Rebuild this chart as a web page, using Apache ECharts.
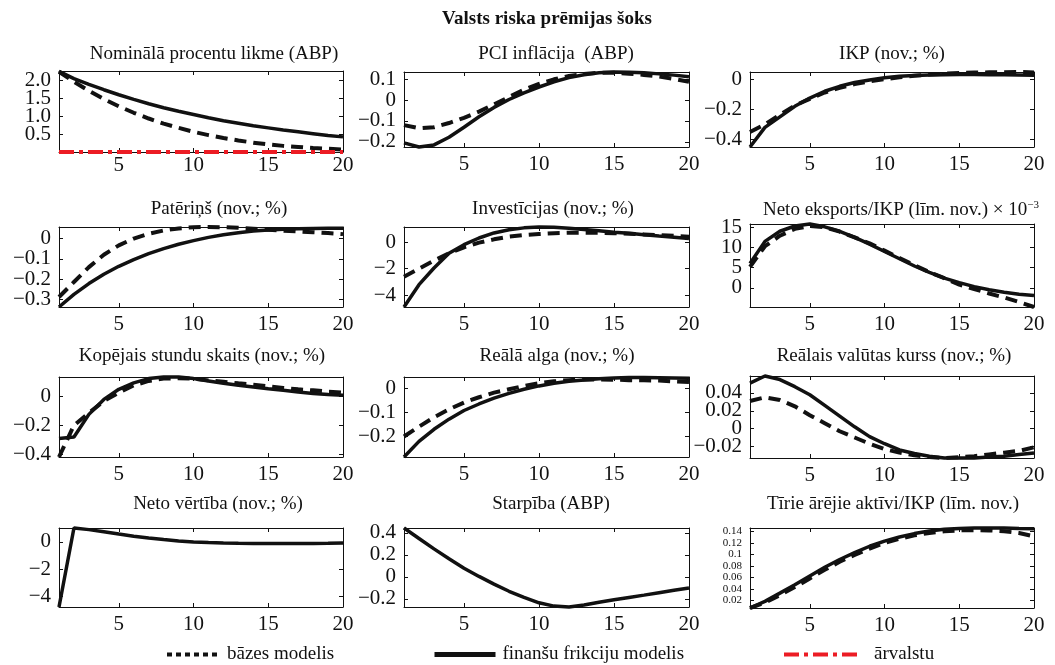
<!DOCTYPE html>
<html><head><meta charset="utf-8">
<script src="https://cdn.jsdelivr.net/npm/echarts@6/dist/echarts.min.js"></script>
<style>html,body{margin:0;padding:0;background:#fff}#c{width:1055px;height:665px}</style>
</head><body><div id="c"></div>
<script>
// ---------- DATA ----------
const periods = [1,2,3,4,5,6,7,8,9,10,11,12,13,14,15,16,17,18,19,20];
const mainTitle = 'Valsts riska prēmijas šoks';
const seriesNames = ['bāzes modelis', 'finanšu frikciju modelis', 'ārvalstu'];
const panelTitles = [
  'Nominālā procentu likme (ABP)', 'PCI inflācija  (ABP)', 'IKP (nov.; %)',
  'Patēriņš (nov.; %)', 'Investīcijas (nov.; %)', 'Neto eksports/IKP (līm. nov.) × 10',
  'Kopējais stundu skaits (nov.; %)', 'Reālā alga (nov.; %)', 'Reālais valūtas kurss (nov.; %)',
  'Neto vērtība (nov.; %)', 'Starpība (ABP)', 'Tīrie ārējie aktīvi/IKP (līm. nov.)'
];
const titleSuperscript = ['', '', '', '', '', '−3', '', '', '', '', '', ''];
const xTickLabels = ['5', '10', '15', '20'];

const nominalRateBase    = [2.23, 1.95, 1.70, 1.47, 1.27, 1.09, 0.93, 0.79, 0.67, 0.56, 0.47, 0.39, 0.32, 0.26, 0.21, 0.17, 0.14, 0.11, 0.09, 0.07];
const nominalRateFin     = [2.24, 2.04, 1.88, 1.73, 1.59, 1.46, 1.34, 1.23, 1.13, 1.04, 0.95, 0.87, 0.80, 0.73, 0.67, 0.61, 0.56, 0.51, 0.46, 0.42];
const nominalRateForeign = [0, 0, 0, 0, 0, 0, 0, 0, 0, 0, 0, 0, 0, 0, 0, 0, 0, 0, 0, 0];
const inflationBase = [-0.12, -0.135, -0.13, -0.11, -0.085, -0.055, -0.02, 0.015, 0.05, 0.078, 0.1, 0.116, 0.126, 0.131, 0.131, 0.127, 0.121, 0.113, 0.102, 0.088];
const inflationFin  = [-0.205, -0.225, -0.215, -0.178, -0.13, -0.08, -0.035, 0.003, 0.035, 0.063, 0.088, 0.108, 0.122, 0.131, 0.135, 0.134, 0.131, 0.126, 0.12, 0.112];
const gdpBase = [-0.35, -0.3, -0.235, -0.175, -0.13, -0.088, -0.057, -0.032, -0.014, 0.0, 0.013, 0.023, 0.031, 0.037, 0.041, 0.044, 0.046, 0.047, 0.048, 0.045];
const gdpFin  = [-0.45, -0.32, -0.25, -0.18, -0.125, -0.08, -0.047, -0.022, -0.005, 0.01, 0.019, 0.025, 0.028, 0.03, 0.031, 0.031, 0.03, 0.029, 0.028, 0.027];
const consBase = [-0.287, -0.213, -0.14, -0.079, -0.033, 0.0, 0.024, 0.04, 0.05, 0.056, 0.057, 0.056, 0.053, 0.049, 0.044, 0.039, 0.035, 0.031, 0.027, 0.022];
const consFin  = [-0.336, -0.274, -0.221, -0.175, -0.136, -0.103, -0.074, -0.049, -0.028, -0.01, 0.006, 0.019, 0.029, 0.037, 0.042, 0.046, 0.049, 0.05, 0.051, 0.051];
const invBase = [-2.6, -2.0, -1.4, -0.85, -0.4, -0.05, 0.2, 0.4, 0.52, 0.6, 0.66, 0.69, 0.7, 0.69, 0.66, 0.62, 0.57, 0.52, 0.46, 0.4];
const invFin  = [-4.875, -3.2, -1.95, -0.85, -0.2, 0.3, 0.68, 0.92, 1.06, 1.12, 1.1, 1.03, 0.94, 0.84, 0.74, 0.65, 0.55, 0.45, 0.36, 0.27];
const nxBase = [5.2, 10.3, 12.9, 14.6, 15.3, 15.0, 13.9, 12.5, 11.0, 9.2, 7.4, 5.6, 3.9, 2.4, 0.8, -0.3, -1.4, -2.4, -3.5, -4.75];
const nxFin  = [6.0, 11.5, 14.0, 15.3, 15.8, 15.1, 14.0, 12.5, 10.8, 9.0, 7.2, 5.4, 3.8, 2.4, 1.3, 0.3, -0.5, -1.1, -1.6, -1.9];
const hoursBase = [-0.416, -0.2, -0.115, -0.034, 0.023, 0.073, 0.103, 0.119, 0.121, 0.119, 0.107, 0.098, 0.087, 0.078, 0.066, 0.055, 0.046, 0.039, 0.03, 0.023];
const hoursFin  = [-0.29, -0.28, -0.125, -0.023, 0.046, 0.09, 0.119, 0.13, 0.13, 0.119, 0.103, 0.087, 0.073, 0.062, 0.05, 0.039, 0.027, 0.018, 0.011, 0.005];
const wageBase = [-0.2, -0.159, -0.12, -0.087, -0.059, -0.037, -0.018, -0.004, 0.01, 0.021, 0.029, 0.034, 0.037, 0.037, 0.036, 0.034, 0.033, 0.032, 0.029, 0.026];
const wageFin  = [-0.285, -0.22, -0.17, -0.128, -0.092, -0.065, -0.041, -0.021, -0.004, 0.01, 0.021, 0.029, 0.035, 0.04, 0.043, 0.045, 0.045, 0.044, 0.043, 0.042];
const rerBase = [0.031, 0.035, 0.032, 0.025, 0.015, 0.006, -0.003, -0.01, -0.017, -0.023, -0.027, -0.03, -0.032, -0.033, -0.032, -0.031, -0.029, -0.027, -0.025, -0.021];
const rerFin  = [0.051, 0.059, 0.055, 0.047, 0.038, 0.026, 0.014, 0.002, -0.009, -0.017, -0.024, -0.028, -0.031, -0.033, -0.033, -0.033, -0.032, -0.031, -0.029, -0.0275];
const netWorthFin = [-4.78, 1.02, 0.9, 0.75, 0.58, 0.42, 0.29, 0.17, 0.07, 0.0, -0.05, -0.08, -0.1, -0.11, -0.12, -0.12, -0.12, -0.11, -0.1, -0.08];
const spreadFin = [0.445, 0.35, 0.255, 0.165, 0.08, 0.005, -0.065, -0.13, -0.185, -0.235, -0.265, -0.272, -0.255, -0.23, -0.207, -0.186, -0.165, -0.143, -0.121, -0.1];
const nfaBase = [0.0067, 0.016, 0.029, 0.043, 0.058, 0.073, 0.087, 0.099, 0.11, 0.12, 0.127, 0.133, 0.137, 0.14, 0.1415, 0.142, 0.1415, 0.14, 0.137, 0.131];
const nfaFin  = [0.0067, 0.0182, 0.0325, 0.047, 0.0624, 0.0774, 0.091, 0.103, 0.114, 0.123, 0.13, 0.136, 0.1406, 0.1434, 0.145, 0.1457, 0.1457, 0.1456, 0.145, 0.1446];

const yTickLabels = [
  ['0.5', '1.0', '1.5', '2.0'],
  ['−0.2', '−0.1', '0', '0.1'],
  ['−0.4', '−0.2', '0'],
  ['−0.3', '−0.2', '−0.1', '0'],
  ['−4', '−2', '0'],
  ['0', '5', '10', '15'],
  ['−0.4', '−0.2', '0'],
  ['−0.2', '−0.1', '0'],
  ['−0.02', '0', '0.02', '0.04'],
  ['−4', '−2', '0'],
  ['−0.2', '0', '0.2', '0.4'],
  ['0.02', '0.04', '0.06', '0.08', '0.1', '0.12', '0.14']
];
const yLimits = [
  [0, 2.25], [-0.225, 0.135], [-0.45, 0.048],
  [-0.336, 0.057], [-4.875, 1.125], [-4.75, 15.8],
  [-0.416, 0.13], [-0.285, 0.047], [-0.033, 0.059],
  [-4.78, 1.02], [-0.273, 0.445], [0.0067, 0.1457]
];
const panelBase = [nominalRateBase, inflationBase, gdpBase, consBase, invBase, nxBase, hoursBase, wageBase, rerBase, null, null, nfaBase];
const panelFin  = [nominalRateFin, inflationFin, gdpFin, consFin, invFin, nxFin, hoursFin, wageFin, rerFin, netWorthFin, spreadFin, nfaFin];
const panelForeign = [nominalRateForeign, null, null, null, null, null, null, null, null, null, null, null];

// ---------- LAYOUT ----------
const gridBoxes = [
  [59, 71, 284, 81], [404, 72, 285, 75], [750, 72, 284, 75],
  [59, 227, 284, 80], [404, 227, 285, 80], [750, 224, 284, 83],
  [59, 377, 284, 80], [404, 377, 285, 80], [750, 376, 284, 82],
  [59, 528, 284, 79], [404, 528, 285, 79], [750, 528, 284, 80]
];
const xLabelMargin = [3, 7, 7, 7, 7, 7, 7, 7, 7, 7, 7, 7];
const titleX = [214, 556, 892, 219, 553, 901, 202, 557, 894, 218, 551, 893];
const titleTop = [45, 45, 45, 200, 200, 200, 347, 347, 347, 495, 495, 495];
const FONT = 'Liberation Serif';
const INK = '#111';
const RED = '#ec1c24';
const TICK_FS = 21;
const Y_LABEL_GAP = 8;
const toNum = s => parseFloat(s.replace('−', '-'));

const grids = [], xAxes = [], yAxes = [], series = [], titles = [];
titles.push({ text: mainTitle, left: 547, top: 10, textAlign: 'center', padding: 0,
  textStyle: { fontFamily: FONT, fontSize: 19, fontWeight: 'bold', color: INK } });

for (let i = 0; i < 12; i++) {
  const [l, t, w, h] = gridBoxes[i];
  grids.push({ left: l, top: t, width: w, height: h, containLabel: false });
  const sup = titleSuperscript[i];
  titles.push({
    text: sup ? '{a|' + panelTitles[i] + '}{s|' + sup + '}' : panelTitles[i],
    left: titleX[i], top: titleTop[i], textAlign: 'center', padding: 0,
    textStyle: { fontFamily: FONT, fontSize: 19, fontWeight: 'normal', color: INK,
      rich: { a: { fontFamily: FONT, fontSize: 19, color: INK },
              s: { fontFamily: FONT, fontSize: 11, color: INK, verticalAlign: 'top', padding: [0, 0, 10, 0] } } }
  });
  const xVals = xTickLabels.map(toNum);
  const yVals = yTickLabels[i].map(toNum);
  const yLab = yTickLabels[i];
  const fs = i === 11 ? 11 : TICK_FS;
  const tickStyle = { lineStyle: { color: INK, width: 1 } };
  const baseX = {
    gridIndex: i, type: 'value', min: 1, max: 20, splitLine: { show: false },
    axisLine: { show: true, onZero: false, lineStyle: { color: INK, width: 1 } },
    axisTick: Object.assign({ show: true, inside: true, length: 4, customValues: xVals }, tickStyle)
  };
  xAxes.push(Object.assign({}, baseX, { position: 'bottom',
    axisLabel: { show: true, customValues: xVals, margin: xLabelMargin[i], fontFamily: FONT, fontSize: TICK_FS, color: INK,
      showMinLabel: true, showMaxLabel: true,
      formatter: v => { const k = xVals.findIndex(q => Math.abs(q - v) < 1e-9); return k >= 0 ? xTickLabels[k] : ''; } } }));
  xAxes.push(Object.assign({}, baseX, { position: 'top', axisLabel: { show: false } }));
  // y tick labels are split between the left and right axes (alternating) so that
  // the library's min/max overlap check never hides any of them; both sets are drawn on the left.
  const evenVals = yVals.filter((_, k) => k % 2 === 0);
  const oddVals = yVals.filter((_, k) => k % 2 === 1);
  const fmt = v => { const k = yVals.findIndex(q => Math.abs(q - v) < 1e-9); return k >= 0 ? yLab[k] : ''; };
  const baseY = {
    gridIndex: i, type: 'value', min: yLimits[i][0], max: yLimits[i][1], splitLine: { show: false },
    axisLine: { show: true, onZero: false, lineStyle: { color: INK, width: 1 } },
    axisTick: Object.assign({ show: true, inside: true, length: 4, customValues: yVals }, tickStyle)
  };
  yAxes.push(Object.assign({}, baseY, { position: 'left',
    axisLabel: { show: true, customValues: evenVals, margin: Y_LABEL_GAP, fontFamily: FONT, fontSize: fs, color: INK,
      showMinLabel: true, showMaxLabel: true, formatter: fmt } }));
  yAxes.push(Object.assign({}, baseY, { position: 'right',
    axisLabel: { show: oddVals.length > 0, customValues: oddVals, margin: -(w + Y_LABEL_GAP), align: 'right',
      fontFamily: FONT, fontSize: fs, color: INK, showMinLabel: true, showMaxLabel: true, formatter: fmt } }));

  const pairs = arr => periods.map((p, k) => [p, arr[k]]);
  const common = { type: 'line', xAxisIndex: 2 * i, yAxisIndex: 2 * i, symbol: 'none', showSymbol: false,
    clip: false, silent: true, animation: false, smooth: false };
  if (panelBase[i]) series.push(Object.assign({}, common, { name: seriesNames[0], data: pairs(panelBase[i]), z: 3,
    lineStyle: { color: INK, width: 4, type: [12, 7] } }));
  if (panelFin[i]) series.push(Object.assign({}, common, { name: seriesNames[1], data: pairs(panelFin[i]), z: 4,
    lineStyle: { color: INK, width: 3.5, type: 'solid' } }));
  if (panelForeign[i]) series.push(Object.assign({}, common, { name: seriesNames[2], data: pairs(panelForeign[i]), z: 5,
    lineStyle: { color: RED, width: 4, type: [15, 5, 4, 5] } }));
}

const legendText = { fontFamily: FONT, fontSize: 19, color: INK, padding: [0, 0, 0, 5] };
const legends = [
  { data: [seriesNames[0]], left: 165, top: 645, padding: 0, itemWidth: 50, itemHeight: 14, selectedMode: false,
    itemStyle: { opacity: 0 }, lineStyle: { color: INK, width: 4, type: [5, 4] }, textStyle: legendText },
  { data: [seriesNames[1]], left: 432, top: 645, padding: 0, itemWidth: 61, itemHeight: 14, selectedMode: false,
    itemStyle: { opacity: 0 }, lineStyle: { color: INK, width: 5, type: 'solid' }, textStyle: Object.assign({}, legendText, { padding: [0, 0, 0, 2] }) },
  { data: [seriesNames[2]], left: 782, top: 645, padding: 0, itemWidth: 76, itemHeight: 14, selectedMode: false,
    itemStyle: { opacity: 0 }, lineStyle: { color: RED, width: 4, type: [15, 5, 4, 5] }, textStyle: Object.assign({}, legendText, { padding: [0, 0, 0, 9] }) }
];

const chart = echarts.init(document.getElementById('c'), null, { renderer: 'canvas', width: 1055, height: 665 });
chart.setOption({
  backgroundColor: '#fff', animation: false,
  title: titles, grid: grids, xAxis: xAxes, yAxis: yAxes, series: series, legend: legends
});
</script></body></html>
